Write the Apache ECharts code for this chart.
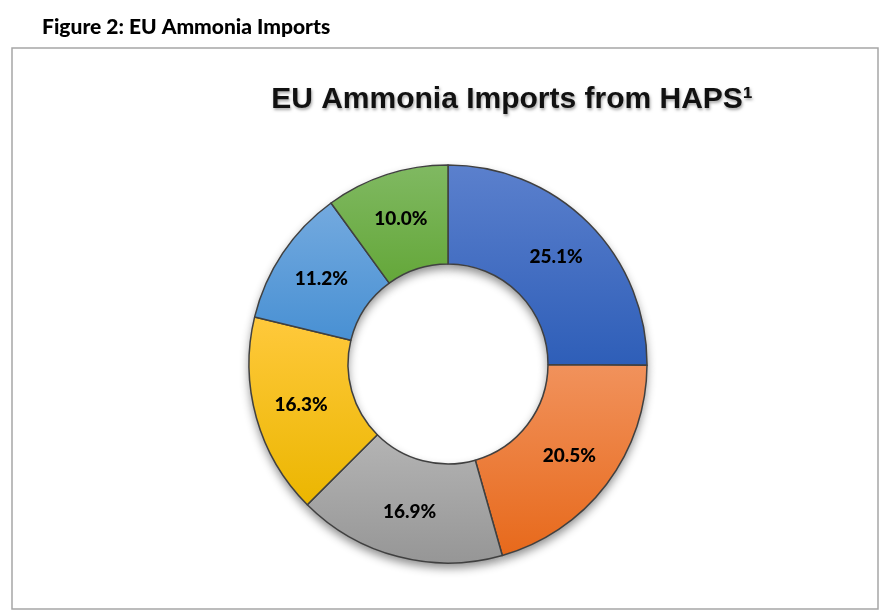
<html>
<meta charset="utf-8">
<body style="margin:0;background:#fff">
    <div id="main" style="width:881px;height:612px;"></div>
</body>
</html>
<script type="text/javascript" src="https://cdn.jsdelivr.net/npm/echarts@6/dist/echarts.min.js"></script>
<script type="text/javascript">

// slice values, clockwise from 12 o'clock
var names = ['Slice 1', 'Slice 2', 'Slice 3', 'Slice 4', 'Slice 5', 'Slice 6'];
var shares = [25.1, 20.5, 16.9, 16.3, 11.2, 10.0];
// top / bottom colours of each slice gradient
var topColors = ['#5B80CD', '#F1925C', '#B4B4B4', '#FFC93C', '#74AADF', '#80B962'];
var bottomColors = ['#2E5EB8', '#E7691B', '#969696', '#EBB600', '#4890D3', '#64A739'];

function initEch(dom) {
    var myChart = echarts.init(document.getElementById(dom));
    var data = [];
    var shadowData = [];
    for (var i = 0; i < shares.length; i++) {
        data.push({
            name: names[i],
            value: shares[i],
            itemStyle: {
                color: new echarts.graphic.LinearGradient(0, 0, 0, 1, [
                    {offset: 0, color: topColors[i]},
                    {offset: 1, color: bottomColors[i]}
                ])
            }
        });
        shadowData.push({name: names[i], value: shares[i]});
    }
    var option = {
        animation: false,
        title: [{
            text: 'Figure 2: EU Ammonia Imports',
            left: 37,
            top: 12,
            textStyle: {fontFamily: 'Lato', fontWeight: 900, fontSize: 21, color: '#000'}
        }, {
            text: 'EU Ammonia Imports from HAPS\u00b9',
            left: 507,
            textAlign: 'center',
            top: 80,
            textStyle: {
                fontFamily: 'Liberation Sans', fontWeight: 'bold', fontSize: 30, color: '#111',
                textShadowColor: 'rgba(0,0,0,0.35)', textShadowBlur: 3, textShadowOffsetX: 1, textShadowOffsetY: 2
            }
        }],
        graphic: [{
            type: 'rect',
            z: -10,
            shape: {x: 12, y: 48, width: 866, height: 561},
            style: {fill: '#fff', stroke: '#a6a6a6', lineWidth: 1.5}
        }],
        series: [{
            // drop shadow under the ring
            type: 'pie',
            silent: true,
            z: 1,
            center: [448, 364],
            radius: [100, 199],
            startAngle: 90,
            label: {show: false},
            labelLine: {show: false},
            data: shadowData,
            itemStyle: {
                color: '#fff',
                shadowColor: 'rgba(0,0,0,0.45)',
                shadowBlur: 10,
                shadowOffsetY: 5
            }
        }, {
            name: 'EU Ammonia Imports from HAPS',
            type: 'pie',
            z: 2,
            center: [448, 364],
            radius: [100, 199],
            startAngle: 90,
            itemStyle: {borderColor: '#404040', borderWidth: 1.5},
            label: {
                show: true,
                position: 'inside',
                formatter: function (p) { return p.value.toFixed(1) + '%'; },
                fontFamily: 'Lato',
                fontWeight: 900,
                fontSize: 19,
                color: '#000'
            },
            labelLine: {show: false},
            data: data
        }]
    };
    myChart.setOption(option);
}

initEch('main');
</script>
